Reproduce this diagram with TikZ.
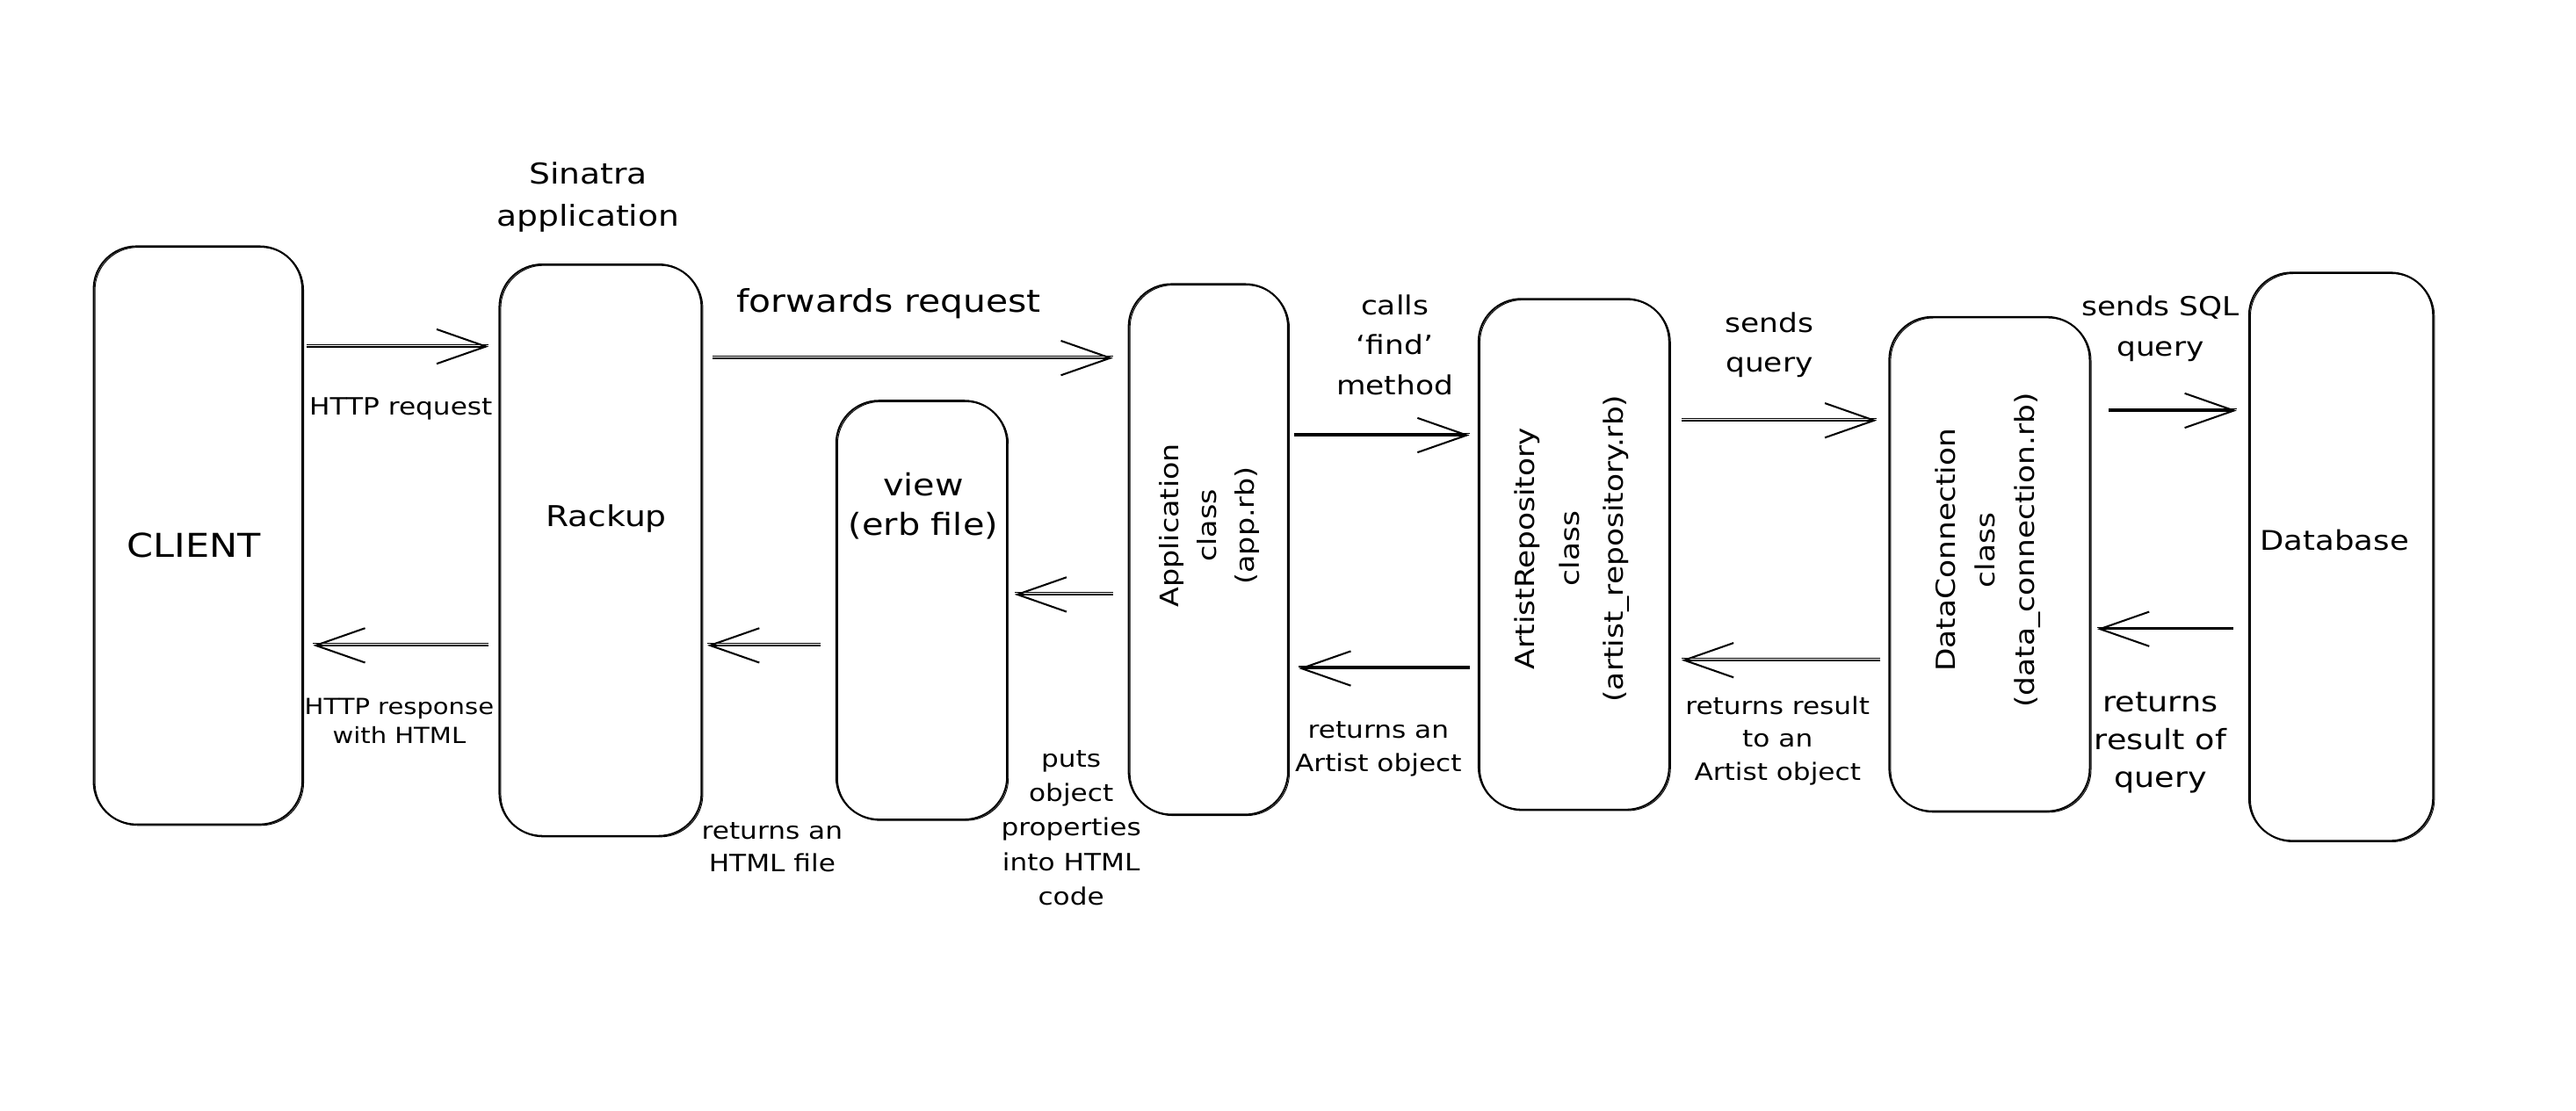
\documentclass[tikz,border=0pt]{standalone}
\usepackage{fontspec}
\setmainfont{DejaVu Sans}[FakeStretch=1.15]
\usetikzlibrary{arrows.meta}
\newcommand\fsz[2]{\fontsize{#1}{#2}\selectfont}
\begin{document}
\begin{tikzpicture}[x=1pt,y=-1pt,
  box/.style={draw, line width=1.1pt, rounded corners=26pt, inner sep=0pt,
    postaction={draw, line width=0.5pt, transform canvas={shift={(0.8pt,-0.6pt)}}}},
  flow/.style={line width=1.1pt, -{Straight Barb[length=30pt,width=21pt]},
    postaction={draw, line width=0.55pt, -, transform canvas={shift={(0pt,1.1pt)}}}},
  lbl/.style={align=center, inner sep=0pt},
  sm/.style={lbl, font=\fsz{14.5}{20}},
  md/.style={lbl, font=\fsz{16}{24.5}},
]
\fill[white] (0,0) rectangle (1568,676);
\useasboundingbox (0,0) rectangle (1568,676);

% components
\node[box, minimum width=127pt, minimum height=352pt] (client) at (120.5,326) {};
\node[box, minimum width=123pt, minimum height=348pt] (rackup) at (365.5,335) {};
\node[box, minimum width=104pt, minimum height=255pt] (view) at (561,371.5) {};
\node[box, minimum width=97pt, minimum height=323pt] (app) at (735.5,334.5) {};
\node[box, minimum width=116pt, minimum height=311pt] (artist) at (958,337.5) {};
\node[box, minimum width=122pt, minimum height=301pt] (data) at (1211,343.5) {};
\node[box, minimum width=112pt, minimum height=346pt] (db) at (1425,339) {};

% component texts
\node[lbl, font=\fsz{20}{24}] (clienttxt) at (118,332) {CLIENT};
\node[lbl, font=\fsz{17.5}{24}] (rackuptxt) at (369,316) {Rackup};
\node[lbl, font=\fsz{17.5}{26}] (sinatra) at (358,120) {Sinatra\\application};
\node[lbl, font=\fsz{18.5}{24}] (viewtxt) at (562,308) {view\\(erb file)};
\node[lbl, rotate=90, font=\fsz{15.5}{23}] (apptxt) at (736,320) {Application\\class\\(app.rb)};
\node[lbl, rotate=90, font=\fsz{16}{27}] (artisttxt) at (957,334) {ArtistRepository\\class\\(artist\_repository.rb)};
\node[lbl, rotate=90, font=\fsz{16}{24}] (datatxt) at (1210,335) {DataConnection\\class\\(data\_connection.rb)};
\node[lbl, font=\fsz{16.5}{24}] (dbtxt) at (1421,329) {Database};

% requests (left to right)
\draw[flow, shorten <=2pt, shorten >=6pt] (client.east |- 0,211) -- (rackup.west |- 0,211);
\draw[flow, shorten <=6pt, shorten >=9pt] (rackup.east |- 0,218) -- (app.west |- 0,218);
\draw[flow, shorten <=3pt, shorten >=5pt] (app.east |- 0,265) -- (artist.west |- 0,265);
\draw[flow, shorten <=7pt, shorten >=7pt] (artist.east |- 0,256) -- (data.west |- 0,256);
\draw[flow, shorten <=11pt, shorten >=7pt] (data.east |- 0,250) -- (db.west |- 0,250);

% responses (right to left)
\draw[flow, shorten <=9pt, shorten >=4pt] (db.west |- 0,383) -- (data.east |- 0,383);
\draw[flow, shorten <=5pt, shorten >=7pt] (data.west |- 0,402) -- (artist.east |- 0,402);
\draw[flow, shorten <=5pt, shorten >=6pt] (artist.west |- 0,407) -- (app.east |- 0,407);
\draw[flow, shorten <=9pt, shorten >=4pt] (app.west |- 0,362) -- (view.east |- 0,362);
\draw[flow, shorten <=9pt, shorten >=3pt] (view.west |- 0,393) -- (rackup.east |- 0,393);
\draw[flow, shorten <=6pt, shorten >=6pt] (rackup.west |- 0,393) -- (client.east |- 0,393);

% connector labels
\node[sm] (httpreq) at (244,249) {HTTP request};
\node[lbl, font=\fsz{13.5}{18}] (httpresp) at (243,439) {HTTP response\\with HTML};
\node[lbl, font=\fsz{19}{24}] (fwd) at (541,185) {forwards request};
\node[sm] (rethtml) at (470,516) {returns an\\HTML file};
\node[lbl, font=\fsz{14.5}{21}] (puts) at (652,504) {puts\\object\\properties\\into HTML\\code};
\node[md] (calls) at (849,210) {calls\\`find'\\method};
\node[sm] (retart) at (839,456) {returns an\\Artist object};
\node[md] (sendsq) at (1077,210) {sends\\query};
\node[sm] (retres) at (1082,451) {returns result\\to an\\Artist object};
\node[md] (sendsql) at (1315,200) {sends SQL\\query};
\node[lbl, font=\fsz{17}{23}] (retq) at (1315,452) {returns\\result of\\query};
\end{tikzpicture}
\end{document}
